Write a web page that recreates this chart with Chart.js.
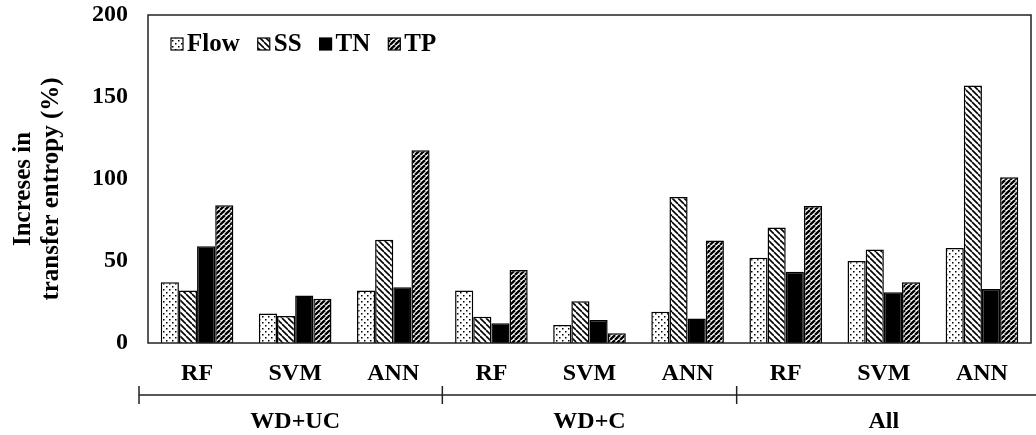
<!DOCTYPE html>
<html>
<head>
<meta charset="utf-8">
<script src="https://cdn.jsdelivr.net/npm/chart.js@4"></script>
<style>
  html, body { margin: 0; padding: 0; background: #fff; }
  #wrap { width: 1036px; height: 435px; }
</style>
</head>
<body>
<div id="wrap"><canvas id="mychart" width="1036" height="435"></canvas></div>
<script>
// -------- data --------
const models = ['RF', 'SVM', 'ANN', 'RF', 'SVM', 'ANN', 'RF', 'SVM', 'ANN'];
const groups = ['WD+UC', 'WD+C', 'All'];
const flow = [37, 18, 32, 32, 11, 19, 52, 50, 58];
const ss   = [32, 16.5, 63, 16, 25.5, 89, 70.5, 57, 157];
const tn   = [59, 29, 34, 12, 14, 15, 43.5, 31, 33];
const tp   = [84, 27, 117.5, 44.5, 6, 62.5, 83.5, 37, 101];
const yTicks = [0, 50, 100, 150, 200];
const yTitle = ['Increses in', 'transfer entropy (%)'];

const FONT = 'Liberation Serif';

// fill patterns, excel style
function makePattern(kind) {
  const c = document.createElement('canvas');
  const s = kind === 'fwd' ? 5 : 6;
  c.width = s; c.height = s;
  const g = c.getContext('2d');
  g.fillStyle = '#fff';
  g.fillRect(0, 0, s, s);
  g.fillStyle = '#000';
  g.strokeStyle = '#000';
  if (kind === 'dots') {
    g.fillRect(1, 1, 1.5, 1.5);
    g.fillRect(4, 4, 1.5, 1.5);
  } else if (kind === 'back') {
    // "\" lines
    g.lineWidth = 1.6;
    for (const k of [-s, 0, s]) {
      g.beginPath(); g.moveTo(k, 0); g.lineTo(k + s, s); g.stroke();
    }
  } else if (kind === 'fwd') {
    // "/" lines, heavier
    g.lineWidth = 2.3;
    for (const k of [-s, 0, s]) {
      g.beginPath(); g.moveTo(k, s); g.lineTo(k + s, 0); g.stroke();
    }
  }
  return g.createPattern(c, 'repeat');
}

// frame, legend inside the plot, y title and the group bracket under the axis
const extras = {
  id: 'extras',
  afterDraw(chart) {
    const {ctx, chartArea, scales: {x}} = chart;
    ctx.save();
    ctx.strokeStyle = '#222';
    ctx.lineWidth = 1.5;
    ctx.strokeRect(chartArea.left, chartArea.top, chartArea.right - chartArea.left, chartArea.bottom - chartArea.top);

    // group bracket
    const ly = chartArea.bottom + 52;
    const x0 = chartArea.left - 9;
    ctx.beginPath();
    ctx.moveTo(x0, ly); ctx.lineTo(chart.width, ly);
    ctx.moveTo(x0, ly - 9); ctx.lineTo(x0, ly + 9);
    for (let i = 1; i < groups.length; i++) {
      const bx = (x.getPixelForValue(i * 3 - 1) + x.getPixelForValue(i * 3)) / 2;
      ctx.moveTo(bx, ly - 9); ctx.lineTo(bx, ly + 9);
    }
    ctx.stroke();

    ctx.fillStyle = '#000';
    ctx.font = 'bold 24px ' + FONT;
    ctx.textAlign = 'center';
    ctx.textBaseline = 'middle';
    groups.forEach((name, i) => {
      ctx.fillText(name, x.getPixelForValue(i * 3 + 1), chartArea.bottom + 79);
    });

    // legend
    ctx.font = 'bold 25px ' + FONT;
    ctx.textAlign = 'left';
    let cx = chartArea.left + 23;
    const cy = chartArea.top + 29;
    chart.data.datasets.forEach(ds => {
      ctx.fillStyle = ds.backgroundColor;
      ctx.fillRect(cx, cy - 6, 12, 12);
      ctx.lineWidth = 1.2;
      ctx.strokeStyle = '#000';
      ctx.strokeRect(cx, cy - 6, 12, 12);
      ctx.fillStyle = '#000';
      ctx.fillText(ds.label, cx + 16, cy + 1);
      cx += 16 + ctx.measureText(ds.label).width + 18;
    });

    // y title, rotated
    ctx.font = 'bold 25px ' + FONT;
    ctx.textAlign = 'center';
    ctx.translate(0, (chartArea.top + chartArea.bottom) / 2 + 10);
    ctx.rotate(-Math.PI / 2);
    ctx.fillText(yTitle[0], 0, 24);
    ctx.fillText(yTitle[1], 0, 52);
    ctx.restore();
  }
};

const mk = (label, values, fill) => ({
  label: label,
  data: values,
  backgroundColor: fill,
  borderColor: '#000',
  borderWidth: 1.5,
  categoryPercentage: 0.74,
  barPercentage: 1.0
});

const config = {
  type: 'bar',
  data: {
    labels: models,
    datasets: [
      mk('Flow', flow, makePattern('dots')),
      mk('SS', ss, makePattern('back')),
      mk('TN', tn, '#000'),
      mk('TP', tp, makePattern('fwd'))
    ]
  },
  options: {
    responsive: false,
    animation: false,
    devicePixelRatio: 1,
    layout: { padding: { top: 15, right: 5, left: 0, bottom: 0 } },
    plugins: {
      legend: { display: false },
      tooltip: { enabled: false }
    },
    scales: {
      x: {
        grid: { display: false, drawTicks: false },
        border: { display: false },
        ticks: {
          color: '#000',
          padding: 16,
          font: { family: FONT, size: 24, weight: 'bold' }
        },
        afterFit: (scale) => { scale.height = 92; }
      },
      y: {
        min: 0,
        max: 200,
        grid: { display: false, drawTicks: false },
        border: { display: false },
        afterBuildTicks: (scale) => { scale.ticks = yTicks.map(v => ({ value: v })); },
        ticks: {
          color: '#000',
          padding: 20,
          font: { family: FONT, size: 24, weight: 'bold' }
        },
        afterFit: (scale) => {
          scale.width = 148;
          scale.paddingTop = 0;
          scale.paddingBottom = 0;
        }
      }
    }
  },
  plugins: [extras]
};

const mychart = document.getElementById('mychart');
var chart = new Chart(mychart, config);
</script>
</body>
</html>
